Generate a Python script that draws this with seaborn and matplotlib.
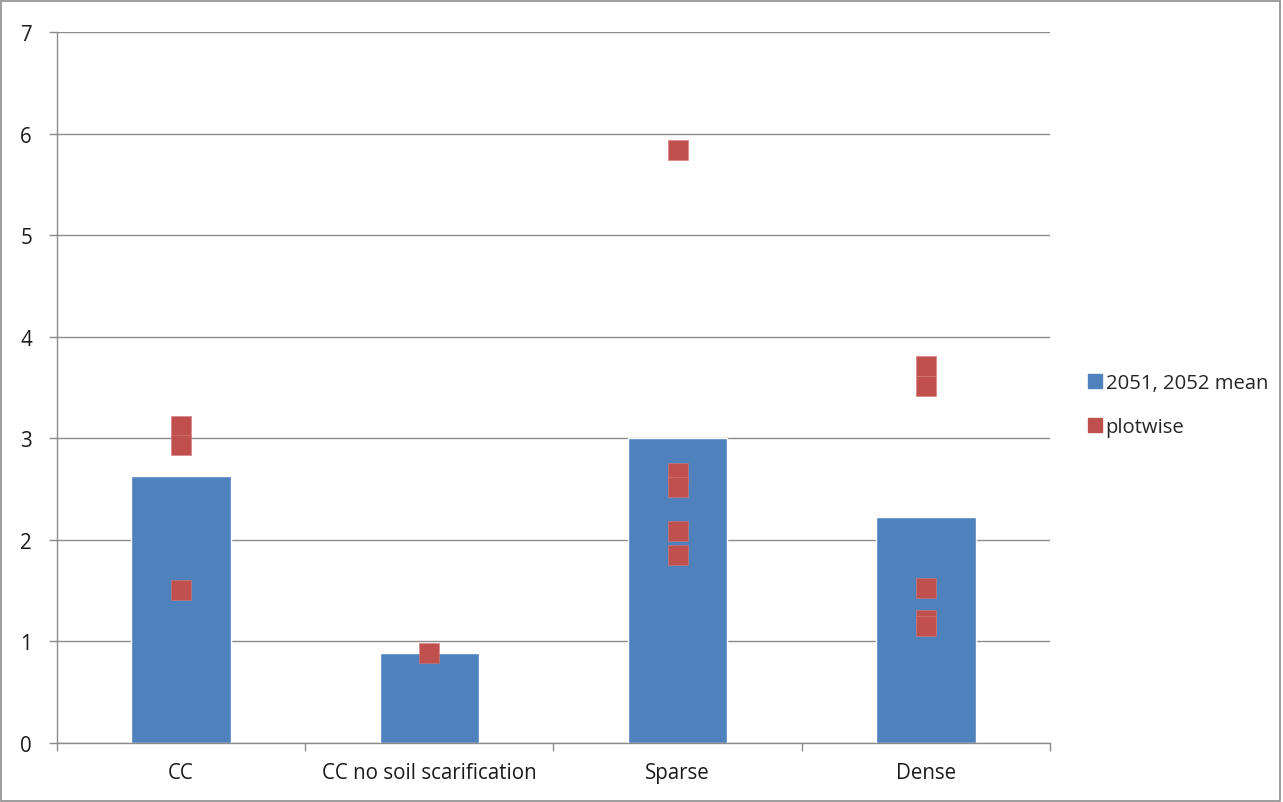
import numpy as np
import pandas as pd
import matplotlib
matplotlib.use("Agg")
import matplotlib.pyplot as plt
import seaborn as sns
from matplotlib.patches import Rectangle
from matplotlib.lines import Line2D

# data
categories = ["CC", "CC no soil scarification", "Sparse", "Dense"]
mean_values = [2.63, 0.89, 3.00, 2.22]

plot_categories = ["CC", "CC", "CC",
                   "CC no soil scarification",
                   "Sparse", "Sparse", "Sparse", "Sparse", "Sparse",
                   "Dense", "Dense", "Dense", "Dense", "Dense"]
plot_values = [3.12, 2.93, 1.51,
               0.89,
               5.84, 2.66, 2.52, 2.09, 1.85,
               3.71, 3.51, 1.53, 1.21, 1.15]

bar_color = "#4F81BD"
point_color = "#C0504D"

sns.set_style("white")
plt.rcParams['font.family'] = ['Open Sans', 'DejaVu Sans']

fig = plt.figure(figsize=(12.83, 8.03), dpi=100)
ax = fig.add_axes([0.0444, 0.0735, 0.774, 0.8854])

bars_df = pd.DataFrame({"cat": categories, "val": mean_values})
pts_df = pd.DataFrame({"cat": plot_categories, "val": plot_values})

sns.barplot(data=bars_df, x="cat", y="val", order=categories, color=bar_color,
            width=0.4, saturation=1, ax=ax, zorder=2)
sns.stripplot(data=pts_df, x="cat", y="val", order=categories, jitter=False,
              marker="s", size=14.5, color=point_color, linewidth=0.4,
              edgecolor="#D77C7A", ax=ax, zorder=3)

ax.set_ylim(0, 7)
ax.set_xlim(-0.5, 3.5)
ax.set_yticks(range(0, 8))
ax.yaxis.grid(True, color="#8C8C8C", linewidth=1.0, zorder=0)
ax.set_axisbelow(True)
ax.set_xlabel("")
ax.set_ylabel("")

# category separators as ticks at the boundaries
ax.set_xticks(np.arange(-0.5, 4.0, 1.0), minor=True)
ax.tick_params(axis="x", which="minor", length=6, width=1, color="#8C8C8C", direction="out")
ax.tick_params(axis="x", which="major", length=0, labelsize=14.8, pad=14, colors="#1A1A1A")
ax.tick_params(axis="y", which="major", length=6, width=1, color="#8C8C8C",
               direction="out", labelsize=14.8, pad=12, labelcolor="#1A1A1A")
ax.tick_params(left=True, bottom=True, which="both")

for s in ["top", "right"]:
    ax.spines[s].set_visible(False)
for s in ["left", "bottom"]:
    ax.spines[s].set_color("#8C8C8C")
    ax.spines[s].set_linewidth(1.0)

handles = [
    Line2D([], [], marker="s", linestyle="", markersize=10.5, markerfacecolor=bar_color,
           markeredgecolor=bar_color),
    Line2D([], [], marker="s", linestyle="", markersize=10.5, markerfacecolor=point_color,
           markeredgecolor=point_color),
]
fig.legend(handles, ["2051, 2052 mean", "plotwise"], loc="center left",
           bbox_to_anchor=(0.831, 0.494), frameon=False, fontsize=14.6,
           handletextpad=0.05, labelspacing=1.2, handlelength=1.0)

# thin outer border like the exported chart
fig.patches.append(Rectangle((0.001, 0.001), 0.997, 0.997, transform=fig.transFigure,
                             fill=False, edgecolor="#8C8C8C", linewidth=1.2))

fig.savefig("out.png", dpi=100)
